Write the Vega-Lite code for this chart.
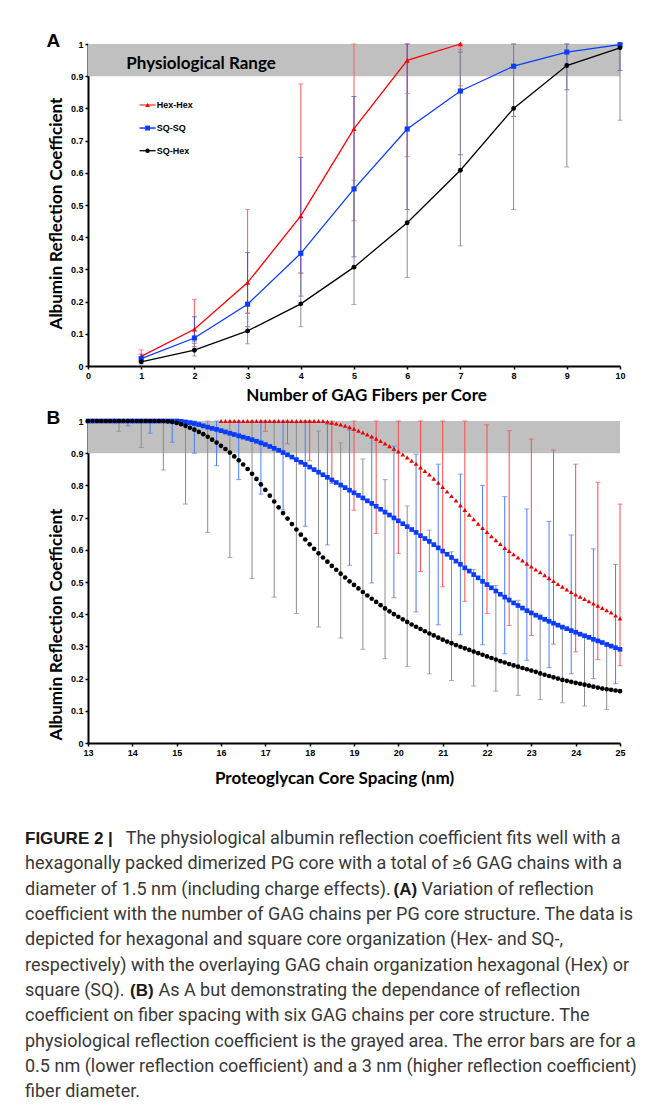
{
  "$schema": "https://vega.github.io/schema/vega-lite/v6.json",
  "padding": {"left": 25, "top": 32, "right": 5, "bottom": 1},
  "background": "white",
  "config": {
    "view": {"stroke": null},
    "axis": {"labelFont": "Liberation Sans", "labelFontWeight": "bold", "labelFontSize": 9, "labelColor": "#000", "domainColor": "#000", "domainWidth": 2, "tickColor": "#000", "tickWidth": 1.5, "tickSize": 3, "grid": false, "titleFont": "Lato", "titleFontWeight": "bold", "titleFontSize": 17, "titleColor": "#000", "labelPadding": 2, "labelFlush": false, "labelOverlap": false}
  },
  "spacing": 6,
  "datasets": {
    "A": [
      {"s":"Hex-Hex","x":1,"y":0.03,"lo":0.015,"hi":0.05},
      {"s":"Hex-Hex","x":2,"y":0.114,"lo":0.07,"hi":0.207},
      {"s":"Hex-Hex","x":3,"y":0.259,"lo":0.163,"hi":0.486},
      {"s":"Hex-Hex","x":4,"y":0.466,"lo":0.287,"hi":0.876},
      {"s":"Hex-Hex","x":5,"y":0.737,"lo":0.451,"hi":1},
      {"s":"Hex-Hex","x":6,"y":0.949,"lo":0.65,"hi":1},
      {"s":"Hex-Hex","x":7,"y":1,"lo":0.87,"hi":1},
      {"s":"SQ-SQ","x":1,"y":0.023,"lo":0.01,"hi":0.037},
      {"s":"SQ-SQ","x":2,"y":0.087,"lo":0.06,"hi":0.153},
      {"s":"SQ-SQ","x":3,"y":0.192,"lo":0.122,"hi":0.352},
      {"s":"SQ-SQ","x":4,"y":0.35,"lo":0.217,"hi":0.648},
      {"s":"SQ-SQ","x":5,"y":0.55,"lo":0.339,"hi":0.837},
      {"s":"SQ-SQ","x":6,"y":0.736,"lo":0.486,"hi":1},
      {"s":"SQ-SQ","x":7,"y":0.854,"lo":0.656,"hi":0.975},
      {"s":"SQ-SQ","x":8,"y":0.931,"lo":0.775,"hi":1},
      {"s":"SQ-SQ","x":9,"y":0.975,"lo":0.858,"hi":1},
      {"s":"SQ-SQ","x":10,"y":0.998,"lo":0.918,"hi":1},
      {"s":"SQ-Hex","x":1,"y":0.013,"lo":0.006,"hi":0.025},
      {"s":"SQ-Hex","x":2,"y":0.049,"lo":0.031,"hi":0.075},
      {"s":"SQ-Hex","x":3,"y":0.109,"lo":0.069,"hi":0.165},
      {"s":"SQ-Hex","x":4,"y":0.193,"lo":0.122,"hi":0.29},
      {"s":"SQ-Hex","x":5,"y":0.307,"lo":0.191,"hi":0.577},
      {"s":"SQ-Hex","x":6,"y":0.445,"lo":0.275,"hi":0.846},
      {"s":"SQ-Hex","x":7,"y":0.608,"lo":0.373,"hi":0.983},
      {"s":"SQ-Hex","x":8,"y":0.8,"lo":0.486,"hi":1},
      {"s":"SQ-Hex","x":9,"y":0.933,"lo":0.618,"hi":1},
      {"s":"SQ-Hex","x":10,"y":0.988,"lo":0.763,"hi":1}
    ],
    "B": [
      {"x":13.0,"SS":1,"SH":1},{"x":13.1,"SS":1,"SH":1},{"x":13.2,"SS":1,"SH":1},{"x":13.3,"SS":1,"SH":1},{"x":13.4,"SS":1,"SH":1},
      {"x":13.5,"SS":1,"SH":1},{"x":13.6,"SS":1,"SH":1},{"x":13.7,"SS":1,"SH":1},{"x":13.8,"SS":1,"SH":1},{"x":13.9,"SS":1,"SH":1},
      {"x":14.0,"SS":1,"SH":1},{"x":14.1,"SS":1,"SH":1},{"x":14.2,"SS":1,"SH":1},{"x":14.3,"SS":1,"SH":1},{"x":14.4,"SS":1,"SH":1},
      {"x":14.5,"SS":1,"SH":1},{"x":14.6,"SS":1,"SH":1},{"x":14.7,"SS":1,"SH":1},{"x":14.8,"SS":1,"SH":0.999},{"x":14.9,"SS":1,"SH":0.997},
      {"x":15.0,"SS":1,"SH":0.994},{"x":15.1,"SS":0.999,"SH":0.99},{"x":15.2,"SS":0.997,"SH":0.985},{"x":15.3,"SS":0.995,"SH":0.979},{"x":15.4,"SS":0.992,"SH":0.973},
      {"x":15.5,"SS":0.989,"SH":0.966},{"x":15.6,"SS":0.985,"SH":0.959},{"x":15.7,"SS":0.981,"SH":0.951},{"x":15.8,"SS":0.977,"SH":0.942},{"x":15.9,"SS":0.974,"SH":0.933},
      {"x":16.0,"HH":1,"SS":0.97,"SH":0.923},{"x":16.1,"HH":1,"SS":0.966,"SH":0.913},{"x":16.2,"HH":1,"SS":0.962,"SH":0.902},{"x":16.3,"HH":1,"SS":0.958,"SH":0.89},{"x":16.4,"HH":1,"SS":0.954,"SH":0.878},
      {"x":16.5,"HH":1,"SS":0.95,"SH":0.865},{"x":16.6,"HH":1,"SS":0.946,"SH":0.851},{"x":16.7,"HH":1,"SS":0.942,"SH":0.836},{"x":16.8,"HH":1,"SS":0.937,"SH":0.82},{"x":16.9,"HH":1,"SS":0.932,"SH":0.803},
      {"x":17.0,"HH":1,"SS":0.927,"SH":0.786},{"x":17.1,"HH":1,"SS":0.921,"SH":0.768},{"x":17.2,"HH":1,"SS":0.915,"SH":0.75},{"x":17.3,"HH":1,"SS":0.909,"SH":0.732},{"x":17.4,"HH":1,"SS":0.902,"SH":0.714},
      {"x":17.5,"HH":1,"SS":0.895,"SH":0.697},{"x":17.6,"HH":1,"SS":0.888,"SH":0.68},{"x":17.7,"HH":1,"SS":0.88,"SH":0.663},{"x":17.8,"HH":1,"SS":0.872,"SH":0.647},{"x":17.9,"HH":1,"SS":0.865,"SH":0.632},
      {"x":18.0,"HH":1,"SS":0.857,"SH":0.617},{"x":18.1,"HH":1,"SS":0.849,"SH":0.603},{"x":18.2,"HH":1,"SS":0.841,"SH":0.589},{"x":18.3,"HH":1,"SS":0.833,"SH":0.576},{"x":18.4,"HH":0.998,"SS":0.825,"SH":0.563},
      {"x":18.5,"HH":0.995,"SS":0.817,"SH":0.55},{"x":18.6,"HH":0.992,"SS":0.809,"SH":0.538},{"x":18.7,"HH":0.989,"SS":0.801,"SH":0.526},{"x":18.8,"HH":0.985,"SS":0.793,"SH":0.514},{"x":18.9,"HH":0.981,"SS":0.785,"SH":0.502},
      {"x":19.0,"HH":0.976,"SS":0.777,"SH":0.491},{"x":19.1,"HH":0.97,"SS":0.769,"SH":0.48},{"x":19.2,"HH":0.964,"SS":0.761,"SH":0.469},{"x":19.3,"HH":0.958,"SS":0.752,"SH":0.458},{"x":19.4,"HH":0.952,"SS":0.744,"SH":0.448},
      {"x":19.5,"HH":0.945,"SS":0.735,"SH":0.438},{"x":19.6,"HH":0.938,"SS":0.726,"SH":0.428},{"x":19.7,"HH":0.93,"SS":0.717,"SH":0.418},{"x":19.8,"HH":0.922,"SS":0.708,"SH":0.409},{"x":19.9,"HH":0.914,"SS":0.699,"SH":0.4},
      {"x":20.0,"HH":0.905,"SS":0.69,"SH":0.392},{"x":20.1,"HH":0.896,"SS":0.681,"SH":0.384},{"x":20.2,"HH":0.887,"SS":0.672,"SH":0.376},{"x":20.3,"HH":0.877,"SS":0.663,"SH":0.368},{"x":20.4,"HH":0.867,"SS":0.654,"SH":0.361},
      {"x":20.5,"HH":0.856,"SS":0.644,"SH":0.354},{"x":20.6,"HH":0.845,"SS":0.635,"SH":0.347},{"x":20.7,"HH":0.834,"SS":0.626,"SH":0.34},{"x":20.8,"HH":0.821,"SS":0.616,"SH":0.334},{"x":20.9,"HH":0.808,"SS":0.606,"SH":0.327},
      {"x":21.0,"HH":0.795,"SS":0.596,"SH":0.321},{"x":21.1,"HH":0.781,"SS":0.586,"SH":0.315},{"x":21.2,"HH":0.767,"SS":0.576,"SH":0.31},{"x":21.3,"HH":0.753,"SS":0.565,"SH":0.304},{"x":21.4,"HH":0.738,"SS":0.555,"SH":0.299},
      {"x":21.5,"HH":0.724,"SS":0.544,"SH":0.294},{"x":21.6,"HH":0.709,"SS":0.534,"SH":0.289},{"x":21.7,"HH":0.695,"SS":0.523,"SH":0.284},{"x":21.8,"HH":0.681,"SS":0.513,"SH":0.279},{"x":21.9,"HH":0.668,"SS":0.502,"SH":0.274},
      {"x":22.0,"HH":0.655,"SS":0.492,"SH":0.269},{"x":22.1,"HH":0.642,"SS":0.482,"SH":0.264},{"x":22.2,"HH":0.63,"SS":0.472,"SH":0.259},{"x":22.3,"HH":0.618,"SS":0.462,"SH":0.254},{"x":22.4,"HH":0.606,"SS":0.453,"SH":0.25},
      {"x":22.5,"HH":0.596,"SS":0.444,"SH":0.245},{"x":22.6,"HH":0.586,"SS":0.435,"SH":0.241},{"x":22.7,"HH":0.576,"SS":0.427,"SH":0.237},{"x":22.8,"HH":0.567,"SS":0.419,"SH":0.233},{"x":22.9,"HH":0.557,"SS":0.411,"SH":0.229},
      {"x":23.0,"HH":0.548,"SS":0.404,"SH":0.225},{"x":23.1,"HH":0.539,"SS":0.397,"SH":0.221},{"x":23.2,"HH":0.53,"SS":0.39,"SH":0.216},{"x":23.3,"HH":0.521,"SS":0.384,"SH":0.212},{"x":23.4,"HH":0.512,"SS":0.378,"SH":0.208},
      {"x":23.5,"HH":0.503,"SS":0.372,"SH":0.204},{"x":23.6,"HH":0.494,"SS":0.366,"SH":0.2},{"x":23.7,"HH":0.485,"SS":0.36,"SH":0.196},{"x":23.8,"HH":0.477,"SS":0.355,"SH":0.193},{"x":23.9,"HH":0.469,"SS":0.349,"SH":0.19},
      {"x":24.0,"HH":0.461,"SS":0.344,"SH":0.187},{"x":24.1,"HH":0.454,"SS":0.338,"SH":0.184},{"x":24.2,"HH":0.447,"SS":0.333,"SH":0.181},{"x":24.3,"HH":0.44,"SS":0.328,"SH":0.178},{"x":24.4,"HH":0.433,"SS":0.322,"SH":0.175},
      {"x":24.5,"HH":0.426,"SS":0.317,"SH":0.172},{"x":24.6,"HH":0.419,"SS":0.312,"SH":0.169},{"x":24.7,"HH":0.412,"SS":0.306,"SH":0.167},{"x":24.8,"HH":0.405,"SS":0.301,"SH":0.165},{"x":24.9,"HH":0.396,"SS":0.296,"SH":0.163},
      {"x":25.0,"HH":0.387,"SS":0.291,"SH":0.161}
    ],
    "EB": [
      {"s":"SH","x":13.7,"lo":0.968,"hi":1},{"s":"SH","x":14.2,"lo":0.918,"hi":1},{"s":"SH","x":14.7,"lo":0.848,"hi":1},{"s":"SH","x":15.2,"lo":0.742,"hi":1},
      {"s":"SH","x":15.7,"lo":0.654,"hi":1},{"s":"SH","x":16.2,"lo":0.576,"hi":1},{"s":"SH","x":16.7,"lo":0.511,"hi":1},{"s":"SH","x":17.2,"lo":0.453,"hi":1},
      {"s":"SH","x":17.7,"lo":0.402,"hi":0.995},{"s":"SH","x":18.2,"lo":0.36,"hi":0.969},{"s":"SH","x":18.7,"lo":0.326,"hi":0.932},{"s":"SH","x":19.2,"lo":0.291,"hi":0.882},
      {"s":"SH","x":19.7,"lo":0.262,"hi":0.818},{"s":"SH","x":20.2,"lo":0.238,"hi":0.736},{"s":"SH","x":20.7,"lo":0.215,"hi":0.661},{"s":"SH","x":21.2,"lo":0.194,"hi":0.594},
      {"s":"SH","x":21.7,"lo":0.177,"hi":0.539},{"s":"SH","x":22.2,"lo":0.161,"hi":0.489},{"s":"SH","x":22.7,"lo":0.148,"hi":0.443},{"s":"SH","x":23.2,"lo":0.135,"hi":0.4},
      {"s":"SH","x":23.7,"lo":0.125,"hi":0.365},{"s":"SH","x":24.2,"lo":0.115,"hi":0.335},{"s":"SH","x":24.7,"lo":0.104,"hi":0.305},
      {"s":"SS","x":13.9,"lo":0.985,"hi":1},{"s":"SS","x":14.4,"lo":0.962,"hi":1},{"s":"SS","x":14.9,"lo":0.934,"hi":1},{"s":"SS","x":15.4,"lo":0.9,"hi":1},
      {"s":"SS","x":15.9,"lo":0.861,"hi":1},{"s":"SS","x":16.4,"lo":0.818,"hi":1},{"s":"SS","x":16.9,"lo":0.773,"hi":1},{"s":"SS","x":17.4,"lo":0.724,"hi":1},
      {"s":"SS","x":17.9,"lo":0.673,"hi":1},{"s":"SS","x":18.4,"lo":0.615,"hi":0.99},{"s":"SS","x":18.9,"lo":0.552,"hi":0.972},{"s":"SS","x":19.4,"lo":0.497,"hi":0.95},
      {"s":"SS","x":19.9,"lo":0.451,"hi":0.922},{"s":"SS","x":20.4,"lo":0.407,"hi":0.897},{"s":"SS","x":20.9,"lo":0.367,"hi":0.866},{"s":"SS","x":21.4,"lo":0.336,"hi":0.835},
      {"s":"SS","x":21.9,"lo":0.305,"hi":0.8},{"s":"SS","x":22.4,"lo":0.277,"hi":0.765},{"s":"SS","x":22.9,"lo":0.257,"hi":0.727},{"s":"SS","x":23.4,"lo":0.234,"hi":0.688},
      {"s":"SS","x":23.9,"lo":0.215,"hi":0.646},{"s":"SS","x":24.4,"lo":0.2,"hi":0.603},{"s":"SS","x":24.9,"lo":0.184,"hi":0.555},
      {"s":"HH","x":17.0,"lo":0.968,"hi":1},{"s":"HH","x":17.5,"lo":0.929,"hi":1},{"s":"HH","x":18.0,"lo":0.877,"hi":1},{"s":"HH","x":18.5,"lo":0.806,"hi":1},
      {"s":"HH","x":19.0,"lo":0.723,"hi":1},{"s":"HH","x":19.5,"lo":0.651,"hi":1},{"s":"HH","x":20.0,"lo":0.589,"hi":1},{"s":"HH","x":20.5,"lo":0.533,"hi":1},
      {"s":"HH","x":21.0,"lo":0.485,"hi":1},{"s":"HH","x":21.5,"lo":0.44,"hi":1},{"s":"HH","x":22.0,"lo":0.402,"hi":0.988},{"s":"HH","x":22.5,"lo":0.365,"hi":0.97},
      {"s":"HH","x":23.0,"lo":0.334,"hi":0.944},{"s":"HH","x":23.5,"lo":0.307,"hi":0.91},{"s":"HH","x":24.0,"lo":0.283,"hi":0.866},{"s":"HH","x":24.5,"lo":0.259,"hi":0.81},
      {"s":"HH","x":25.0,"lo":0.24,"hi":0.742}
    ],
    "CAP": [
      {"line":1,"c":25,"b":1,"t":"FIGURE 2 |"},
      {"line":1,"c":125.7,"b":0,"t":"The physiological albumin reflection coefficient fits well with a"},
      {"line":2,"c":25,"b":0,"t":"hexagonally packed dimerized PG core with a total of ≥6 GAG chains with a"},
      {"line":3,"c":25,"b":0,"t":"diameter of 1.5 nm (including charge effects)."},
      {"line":3,"c":393.5,"b":1,"t":"(A)"},
      {"line":3,"c":421.5,"b":0,"t":"Variation of reflection"},
      {"line":4,"c":25,"b":0,"t":"coefficient with the number of GAG chains per PG core structure. The data is"},
      {"line":5,"c":25,"b":0,"t":"depicted for hexagonal and square core organization (Hex- and SQ-,"},
      {"line":6,"c":25,"b":0,"t":"respectively) with the overlaying GAG chain organization hexagonal (Hex) or"},
      {"line":7,"c":25,"b":0,"t":"square (SQ)."},
      {"line":7,"c":130,"b":1,"t":"(B)"},
      {"line":7,"c":158.4,"b":0,"t":"As A but demonstrating the dependance of reflection"},
      {"line":8,"c":25,"b":0,"t":"coefficient on fiber spacing with six GAG chains per core structure. The"},
      {"line":9,"c":25,"b":0,"t":"physiological reflection coefficient is the grayed area. The error bars are for a"},
      {"line":10,"c":25,"b":0,"t":"0.5 nm (lower reflection coefficient) and a 3 nm (higher reflection coefficient)"},
      {"line":11,"c":25,"b":0,"t":"fiber diameter."}
    ]
  },
  "vconcat": [
    {
      "width": 532,
      "height": 322,
      "title": {"text": "A", "anchor": "start", "frame": "bounds", "font": "Liberation Sans", "fontSize": 19, "fontWeight": "bold", "color": "#000", "baseline": "alphabetic", "offset": 0, "dy": 26, "dx": -1},
      "layer": [
        {
          "data": {"values": [{"x0": 0, "x1": 10, "y0": 0.9, "y1": 1}]},
          "mark": {"type": "rect", "color": "#c0c0c0"},
          "encoding": {
            "x": {"field": "x0", "type": "quantitative", "scale": {"domain": [0, 10], "nice": false}, "axis": {"title": "Number of GAG Fibers per Core", "values": [0,1,2,3,4,5,6,7,8,9,10], "labelOverlap": false, "titlePadding": 7, "titleX": 278}},
            "x2": {"field": "x1"},
            "y": {"field": "y0", "type": "quantitative", "scale": {"domain": [0, 1], "nice": false}, "axis": {"title": "Albumin Reflection Coefficient", "values": [0,0.1,0.2,0.3,0.4,0.5,0.6,0.7,0.8,0.9,1], "tickCount": 11, "labelOverlap": false, "labelSeparation": 0, "format": ".1~f", "titlePadding": 5, "titleY": 169}},
            "y2": {"field": "y1"}
          }
        },
        {
          "data": {"values": [{"x": 0.72, "y": 0.921, "t": "Physiological Range"}]},
          "mark": {"type": "text", "align": "left", "baseline": "alphabetic", "font": "Lato", "fontWeight": "bold", "fontSize": 17, "color": "#000"},
          "encoding": {"x": {"field": "x", "type": "quantitative"}, "y": {"field": "y", "type": "quantitative"}, "text": {"field": "t"}}
        },
        {
          "data": {"name": "A"},
          "transform": [{"filter": "datum.s === 'Hex-Hex'"}],
          "layer": [
            {"mark": {"type": "rule", "strokeWidth": 1, "color": "#ff5a5a"}, "encoding": {"x": {"field": "x", "type": "quantitative"}, "y": {"field": "lo", "type": "quantitative"}, "y2": {"field": "hi"}}},
            {"mark": {"type": "tick", "orient": "horizontal", "size": 5, "thickness": 1, "color": "#ff5a5a"}, "encoding": {"x": {"field": "x", "type": "quantitative"}, "y": {"field": "lo", "type": "quantitative"}}},
            {"mark": {"type": "tick", "orient": "horizontal", "size": 5, "thickness": 1, "color": "#ff5a5a"}, "encoding": {"x": {"field": "x", "type": "quantitative"}, "y": {"field": "hi", "type": "quantitative"}}}
          ]
        },
        {
          "data": {"name": "A"},
          "transform": [{"filter": "datum.s === 'SQ-SQ'"}],
          "layer": [
            {"mark": {"type": "rule", "strokeWidth": 1, "color": "#4848d8"}, "encoding": {"x": {"field": "x", "type": "quantitative"}, "y": {"field": "lo", "type": "quantitative"}, "y2": {"field": "hi"}}},
            {"mark": {"type": "tick", "orient": "horizontal", "size": 5, "thickness": 1, "color": "#4848d8"}, "encoding": {"x": {"field": "x", "type": "quantitative"}, "y": {"field": "lo", "type": "quantitative"}}},
            {"mark": {"type": "tick", "orient": "horizontal", "size": 5, "thickness": 1, "color": "#4848d8"}, "encoding": {"x": {"field": "x", "type": "quantitative"}, "y": {"field": "hi", "type": "quantitative"}}}
          ]
        },
        {
          "data": {"name": "A"},
          "transform": [{"filter": "datum.s === 'SQ-Hex'"}],
          "layer": [
            {"mark": {"type": "rule", "strokeWidth": 1, "color": "#8c8c8c"}, "encoding": {"x": {"field": "x", "type": "quantitative"}, "y": {"field": "lo", "type": "quantitative"}, "y2": {"field": "hi"}}},
            {"mark": {"type": "tick", "orient": "horizontal", "size": 5, "thickness": 1, "color": "#8c8c8c"}, "encoding": {"x": {"field": "x", "type": "quantitative"}, "y": {"field": "lo", "type": "quantitative"}}},
            {"mark": {"type": "tick", "orient": "horizontal", "size": 5, "thickness": 1, "color": "#8c8c8c"}, "encoding": {"x": {"field": "x", "type": "quantitative"}, "y": {"field": "hi", "type": "quantitative"}}}
          ]
        },
        {
          "data": {"name": "A"},
          "mark": {"type": "line", "strokeWidth": 1.3},
          "encoding": {
            "x": {"field": "x", "type": "quantitative"},
            "y": {"field": "y", "type": "quantitative"},
            "stroke": {"field": "s", "type": "nominal", "scale": {"domain": ["Hex-Hex", "SQ-SQ", "SQ-Hex"], "range": ["#ff0000", "#0a3cff", "#000000"]}, "legend": null}
          }
        },
        {
          "data": {"name": "A"},
          "transform": [{"filter": "datum.s === 'Hex-Hex'"}],
          "mark": {"type": "point", "filled": true, "opacity": 1, "size": 26, "shape": "triangle-up", "color": "#ff0000"},
          "encoding": {"x": {"field": "x", "type": "quantitative"}, "y": {"field": "y", "type": "quantitative"}}
        },
        {
          "data": {"name": "A"},
          "transform": [{"filter": "datum.s === 'SQ-SQ'"}],
          "mark": {"type": "point", "filled": true, "opacity": 1, "size": 26, "shape": "square", "color": "#0a3cff"},
          "encoding": {"x": {"field": "x", "type": "quantitative"}, "y": {"field": "y", "type": "quantitative"}}
        },
        {
          "data": {"name": "A"},
          "transform": [{"filter": "datum.s === 'SQ-Hex'"}],
          "mark": {"type": "point", "filled": true, "opacity": 1, "size": 24, "shape": "circle", "color": "#000000"},
          "encoding": {"x": {"field": "x", "type": "quantitative"}, "y": {"field": "y", "type": "quantitative"}}
        },
        {
          "data": {"values": [{}]},
          "layer": [
            {"mark": {"type": "rule", "strokeWidth": 1, "color": "#ff0000"}, "encoding": {"x": {"datum": 0.97, "type": "quantitative"}, "x2": {"datum": 1.271}, "y": {"datum": 0.8106, "type": "quantitative"}}},
            {"mark": {"type": "point", "filled": true, "opacity": 1, "size": 22, "shape": "triangle-up", "color": "#ff0000"}, "encoding": {"x": {"datum": 1.12, "type": "quantitative"}, "y": {"datum": 0.8106, "type": "quantitative"}}},
            {"mark": {"type": "text", "align": "left", "baseline": "middle", "font": "Liberation Sans", "fontWeight": "bold", "fontSize": 9, "color": "#000"}, "encoding": {"x": {"datum": 1.29, "type": "quantitative"}, "y": {"datum": 0.8106, "type": "quantitative"}, "text": {"value": "Hex-Hex"}}},
            {"mark": {"type": "rule", "strokeWidth": 1.5, "color": "#0a3cff"}, "encoding": {"x": {"datum": 0.97, "type": "quantitative"}, "x2": {"datum": 1.271}, "y": {"datum": 0.739, "type": "quantitative"}}},
            {"mark": {"type": "point", "filled": true, "opacity": 1, "size": 24, "shape": "square", "color": "#0a3cff"}, "encoding": {"x": {"datum": 1.12, "type": "quantitative"}, "y": {"datum": 0.739, "type": "quantitative"}}},
            {"mark": {"type": "text", "align": "left", "baseline": "middle", "font": "Liberation Sans", "fontWeight": "bold", "fontSize": 9, "color": "#000"}, "encoding": {"x": {"datum": 1.29, "type": "quantitative"}, "y": {"datum": 0.739, "type": "quantitative"}, "text": {"value": "SQ-SQ"}}},
            {"mark": {"type": "rule", "strokeWidth": 1.3, "color": "#000000"}, "encoding": {"x": {"datum": 0.97, "type": "quantitative"}, "x2": {"datum": 1.271}, "y": {"datum": 0.6686, "type": "quantitative"}}},
            {"mark": {"type": "point", "filled": true, "opacity": 1, "size": 20, "shape": "circle", "color": "#000000"}, "encoding": {"x": {"datum": 1.12, "type": "quantitative"}, "y": {"datum": 0.6686, "type": "quantitative"}}},
            {"mark": {"type": "text", "align": "left", "baseline": "middle", "font": "Liberation Sans", "fontWeight": "bold", "fontSize": 9, "color": "#000"}, "encoding": {"x": {"datum": 1.29, "type": "quantitative"}, "y": {"datum": 0.6686, "type": "quantitative"}, "text": {"value": "SQ-Hex"}}}
          ]
        }
      ]
    },
    {
      "width": 532,
      "height": 322,
      "title": {"text": "B", "anchor": "start", "frame": "bounds", "font": "Liberation Sans", "fontSize": 19, "fontWeight": "bold", "color": "#000", "baseline": "alphabetic", "offset": 0, "dy": 26, "dx": -1},
      "layer": [
        {
          "data": {"values": [{"x0": 13, "x1": 25, "y0": 0.9, "y1": 1}]},
          "mark": {"type": "rect", "color": "#c0c0c0"},
          "encoding": {
            "x": {"field": "x0", "type": "quantitative", "scale": {"domain": [13, 25], "nice": false, "zero": false}, "axis": {"title": "Proteoglycan Core Spacing (nm)", "values": [13,14,15,16,17,18,19,20,21,22,23,24,25], "labelOverlap": false, "titlePadding": 13, "titleX": 246}},
            "x2": {"field": "x1"},
            "y": {"field": "y0", "type": "quantitative", "scale": {"domain": [0, 1], "nice": false}, "axis": {"title": "Albumin Reflection Coefficient", "values": [0,0.1,0.2,0.3,0.4,0.5,0.6,0.7,0.8,0.9,1], "tickCount": 11, "labelOverlap": false, "labelSeparation": 0, "format": ".1~f", "titlePadding": 5, "titleY": 203}},
            "y2": {"field": "y1"}
          }
        },
        {
          "data": {"name": "EB"},
          "transform": [{"filter": "datum.s === 'HH'"}],
          "layer": [
            {"mark": {"type": "rule", "strokeWidth": 1, "color": "#ff4a4a"}, "encoding": {"x": {"field": "x", "type": "quantitative"}, "y": {"field": "lo", "type": "quantitative"}, "y2": {"field": "hi"}}},
            {"mark": {"type": "tick", "orient": "horizontal", "size": 5, "thickness": 1, "color": "#ff4a4a"}, "encoding": {"x": {"field": "x", "type": "quantitative"}, "y": {"field": "lo", "type": "quantitative"}}},
            {"mark": {"type": "tick", "orient": "horizontal", "size": 5, "thickness": 1, "color": "#ff4a4a"}, "encoding": {"x": {"field": "x", "type": "quantitative"}, "y": {"field": "hi", "type": "quantitative"}}}
          ]
        },
        {
          "data": {"name": "EB"},
          "transform": [{"filter": "datum.s === 'SS'"}],
          "layer": [
            {"mark": {"type": "rule", "strokeWidth": 1, "color": "#4a7bff"}, "encoding": {"x": {"field": "x", "type": "quantitative"}, "y": {"field": "lo", "type": "quantitative"}, "y2": {"field": "hi"}}},
            {"mark": {"type": "tick", "orient": "horizontal", "size": 5, "thickness": 1, "color": "#4a7bff"}, "encoding": {"x": {"field": "x", "type": "quantitative"}, "y": {"field": "lo", "type": "quantitative"}}},
            {"mark": {"type": "tick", "orient": "horizontal", "size": 5, "thickness": 1, "color": "#4a7bff"}, "encoding": {"x": {"field": "x", "type": "quantitative"}, "y": {"field": "hi", "type": "quantitative"}}}
          ]
        },
        {
          "data": {"name": "EB"},
          "transform": [{"filter": "datum.s === 'SH'"}],
          "layer": [
            {"mark": {"type": "rule", "strokeWidth": 1, "color": "#8c8c8c"}, "encoding": {"x": {"field": "x", "type": "quantitative"}, "y": {"field": "lo", "type": "quantitative"}, "y2": {"field": "hi"}}},
            {"mark": {"type": "tick", "orient": "horizontal", "size": 5, "thickness": 1, "color": "#8c8c8c"}, "encoding": {"x": {"field": "x", "type": "quantitative"}, "y": {"field": "lo", "type": "quantitative"}}},
            {"mark": {"type": "tick", "orient": "horizontal", "size": 5, "thickness": 1, "color": "#8c8c8c"}, "encoding": {"x": {"field": "x", "type": "quantitative"}, "y": {"field": "hi", "type": "quantitative"}}}
          ]
        },
        {
          "data": {"name": "B"},
          "transform": [{"filter": "isValid(datum.HH)"}],
          "mark": {"type": "point", "filled": true, "opacity": 1, "shape": "triangle-up", "size": 22, "color": "#ee0000"},
          "encoding": {"x": {"field": "x", "type": "quantitative"}, "y": {"field": "HH", "type": "quantitative"}}
        },
        {
          "data": {"name": "B"},
          "mark": {"type": "point", "filled": true, "opacity": 1, "shape": "square", "size": 22, "color": "#0a3cff"},
          "encoding": {"x": {"field": "x", "type": "quantitative"}, "y": {"field": "SS", "type": "quantitative"}}
        },
        {
          "data": {"name": "B"},
          "mark": {"type": "point", "filled": true, "opacity": 1, "shape": "circle", "size": 22, "color": "#000000"},
          "encoding": {"x": {"field": "x", "type": "quantitative"}, "y": {"field": "SH", "type": "quantitative"}}
        }
      ]
    },
    {
      "width": 532,
      "height": 313,
      "data": {"name": "CAP"},
      "encoding": {
        "x": {"field": "c", "type": "quantitative", "scale": {"domain": [88, 620], "nice": false, "zero": false}, "axis": null},
        "y": {"field": "line", "type": "quantitative", "scale": {"domain": [-0.856, 11.5], "nice": false, "zero": false, "reverse": true}, "axis": null},
        "text": {"field": "t"}
      },
      "layer": [
        {"transform": [{"filter": "datum.b == 0"}], "mark": {"type": "text", "align": "left", "baseline": "middle", "font": "Roboto", "fontSize": 18, "color": "#383838"}},
        {"transform": [{"filter": "datum.b == 1"}], "mark": {"type": "text", "align": "left", "baseline": "middle", "font": "Liberation Sans", "fontWeight": "bold", "fontSize": 17, "color": "#1a1a1a"}}
      ]
    }
  ]
}
